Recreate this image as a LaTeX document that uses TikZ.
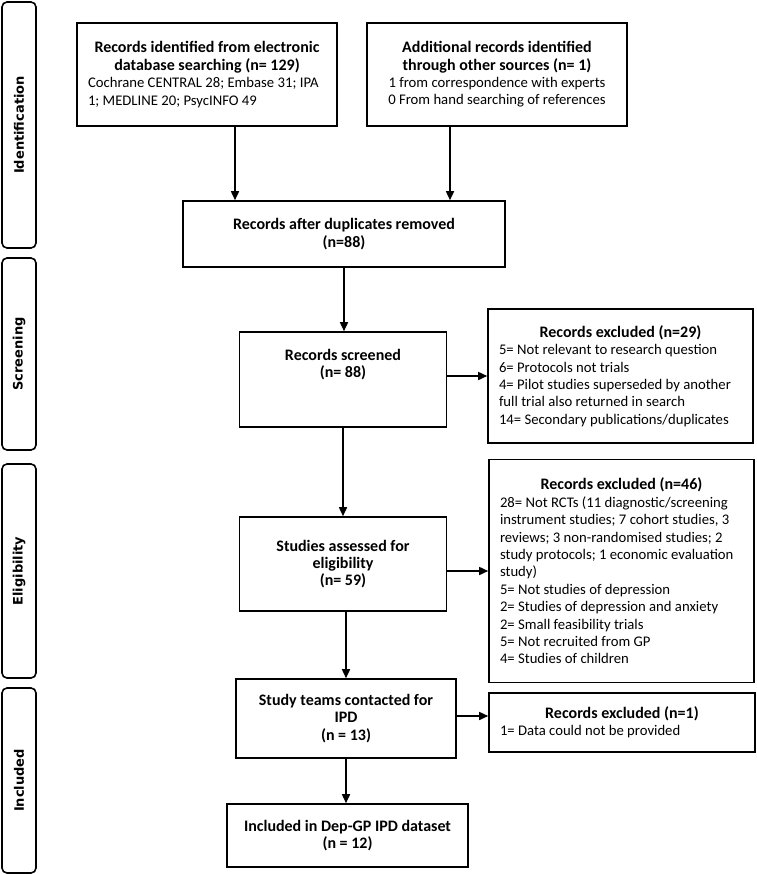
\documentclass[tikz,border=0pt]{standalone}
\usepackage{fontspec}
\setmainfont{Carlito}
\newfontfamily\phasefont{DejaVu Sans}
\usetikzlibrary{arrows.meta,calc}

\begin{document}
\begin{tikzpicture}[x=1pt, y=-1pt]
\tikzstyle{box}=[draw, line width=1.6pt, inner xsep=11pt, inner ysep=2pt, font=\fontsize{14.7}{17.4}\selectfont]
\tikzstyle{hd}=[font=\fontsize{16}{17.4}\selectfont\bfseries]
\tikzstyle{stage}=[draw, line width=1.6pt, rounded corners=5pt, minimum height=34pt, rotate=90, font=\phasefont\bfseries\fontsize{13}{15}\selectfont]
\tikzstyle{arr}=[line width=1.6pt, -{Triangle[length=9pt, width=8pt]}]
\useasboundingbox (0,0) rectangle (756,874);

% stages
\node[stage, minimum width=246pt] (pid) at (19,125) {Identification};
\node[stage, minimum width=192pt] (psc) at (19,354) {Screening};
\node[stage, minimum width=214pt] (pel) at (19,571) {Eligibility};
\node[stage, minimum width=185pt] (pin) at (19,780.5) {Included};

% flow
\node[box, minimum width=260pt, minimum height=103pt, text width=238pt, align=flush left] (srch) at (207,74.5)
  {{\centering\fontsize{16}{17.4}\selectfont\bfseries Records identified from electronic\\database searching (n= 129)\par}Cochrane CENTRAL 28; Embase 31; IPA\\1; MEDLINE 20; PsycINFO 49};
\node[box, minimum width=260pt, minimum height=103pt, text width=238pt, align=flush center] (other) at (497,74.5)
  {{\fontsize{16}{17.4}\selectfont\bfseries Additional records identified\\through other sources (n= 1)\par}1 from correspondence with experts\\0 From hand searching of references};
\node[box, hd, minimum width=322pt, minimum height=66pt, text width=300pt, align=flush center] (dupl) at (344,234)
  {Records after duplicates removed\\(n=88)};
\node[box, hd, minimum width=207pt, minimum height=95pt, text width=185pt, align=flush center, text height=26pt, text depth=65pt] (scrn) at (343,379.5)
  {Records screened\\(n= 88)};
\node[box, minimum width=265pt, minimum height=134pt, text width=243pt, align=flush left] (excl1) at (620.5,376)
  {{\centering\fontsize{16}{17.4}\selectfont\bfseries Records excluded (n=29)\par}5= Not relevant to research question\\6= Protocols not trials\\4= Pilot studies superseded by another\\full trial also returned in search\\14= Secondary publications/duplicates};
\node[box, hd, minimum width=207pt, minimum height=94pt, text width=185pt, align=flush center] (elig) at (343,564)
  {Studies assessed for\\eligibility\\(n= 59)};
\node[box, minimum width=265pt, minimum height=223pt, text width=243pt, align=flush left] (excl2) at (621.5,571)
  {{\centering\fontsize{16}{17.4}\selectfont\bfseries Records excluded (n=46)\par}28= Not RCTs (11 diagnostic/screening\\instrument studies; 7 cohort studies, 3\\reviews; 3 non-randomised studies; 2\\study protocols; 1 economic evaluation\\study)\\5= Not studies of depression\\2= Studies of depression and anxiety\\2= Small feasibility trials\\5= Not recruited from GP\\4= Studies of children};
\node[box, hd, minimum width=220pt, minimum height=79pt, text width=198pt, align=flush center] (team) at (346,718.5)
  {Study teams contacted for\\IPD\\(n = 13)};
\node[box, minimum width=266pt, minimum height=59pt, text width=244pt, align=flush left] (excl3) at (622,722.5)
  {{\centering\fontsize{16}{17.4}\selectfont\bfseries Records excluded (n=1)\par}1= Data could not be provided};
\node[box, hd, minimum width=241pt, minimum height=63pt, text width=219pt, align=flush center] (incl) at (347.5,835.5)
  {Included in Dep-GP IPD dataset\\(n = 12)};

\draw[arr] ([xshift=28pt]srch.south) -- ([xshift=28pt]srch.south |- dupl.north);
\draw[arr] ([xshift=-47pt]other.south) -- ([xshift=-47pt]other.south |- dupl.north);
\draw[arr] (dupl.south) -- (dupl.south |- scrn.north);
\draw[arr] (scrn.east |- excl1.west) -- (excl1.west);
\draw[arr] (scrn.south) -- (elig.north);
\draw[arr] (elig.east |- excl2.west) -- (excl2.west);
\draw[arr] (elig.south -| team.north) -- (team.north);
\draw[arr] ([yshift=2.5pt]team.east) -- ([yshift=2.5pt]team.east -| excl3.west);
\draw[arr] (team.south) -- (team.south |- incl.north);
\end{tikzpicture}
\end{document}
